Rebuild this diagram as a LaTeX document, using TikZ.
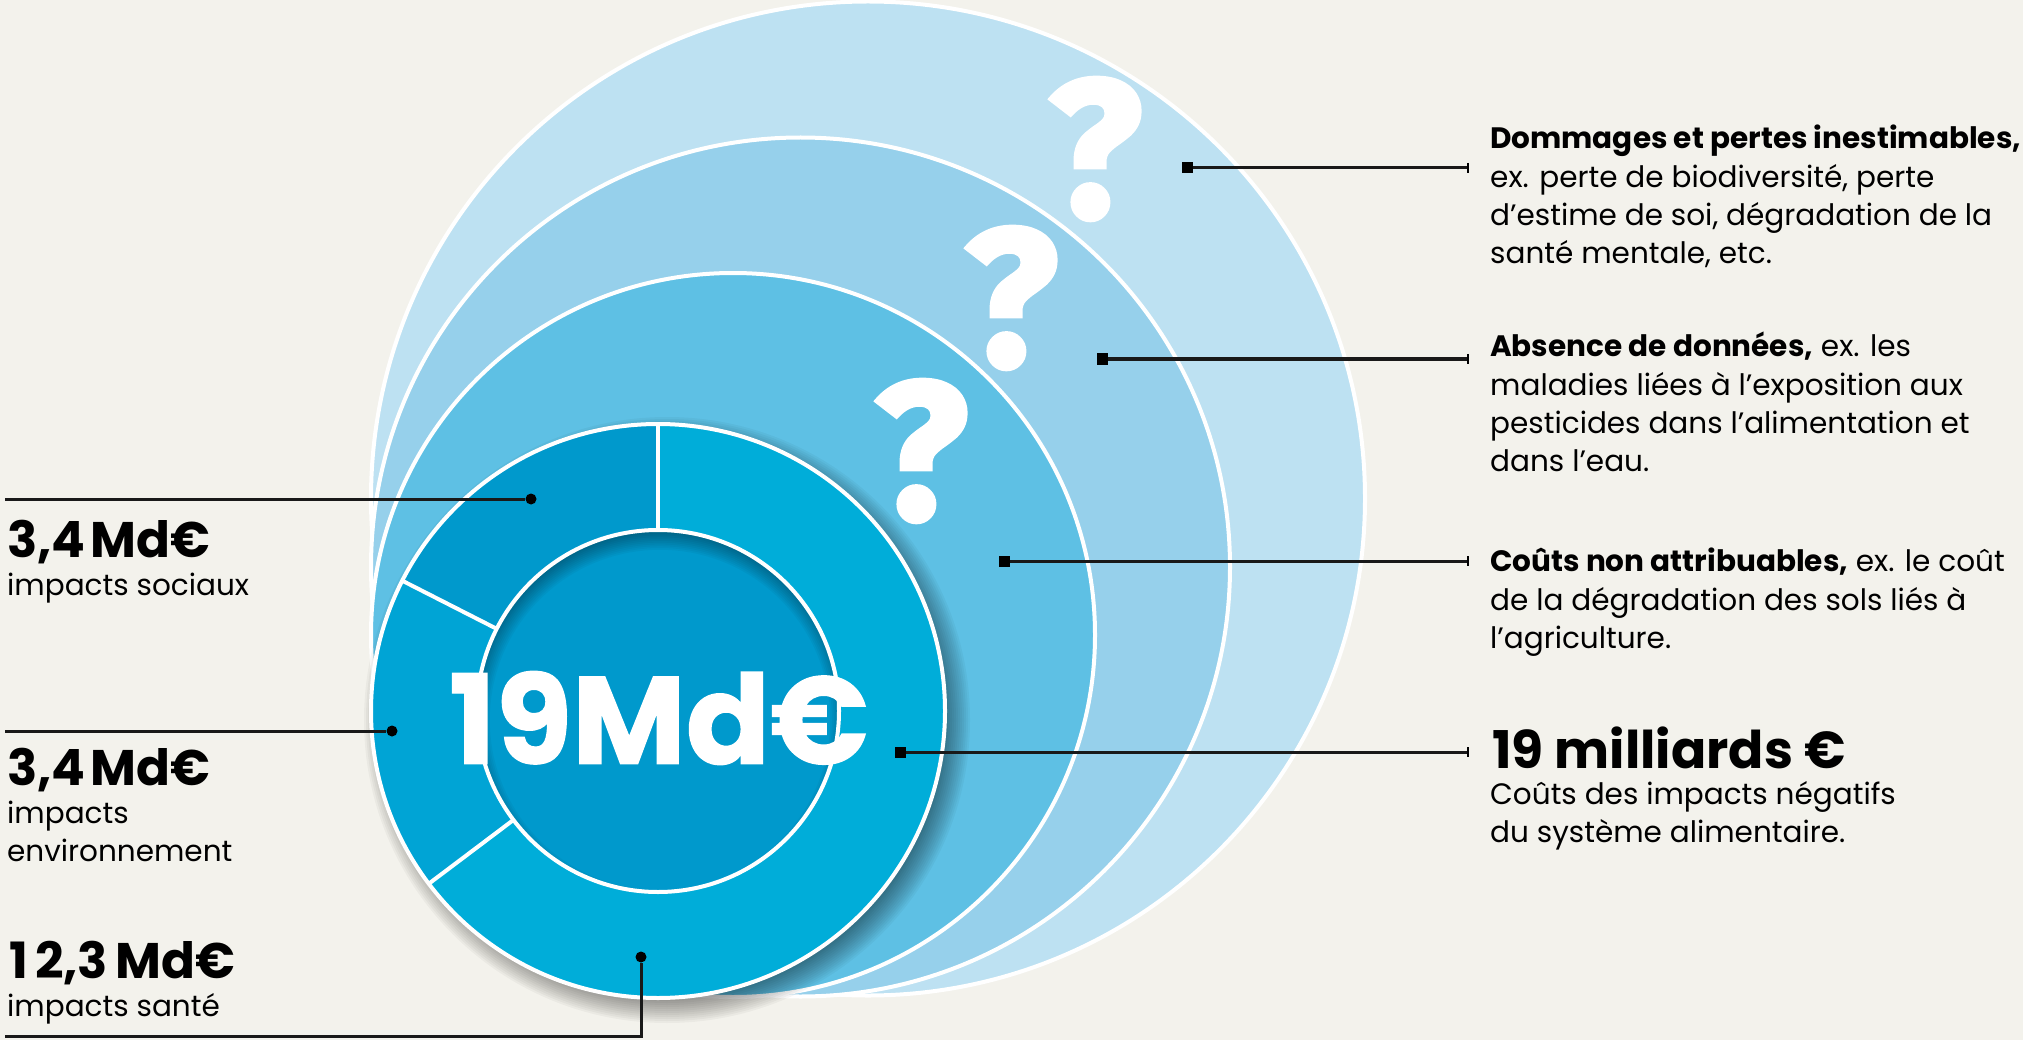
\documentclass[tikz,border=0pt]{standalone}
\usepackage{fontspec}
\usetikzlibrary{calc}
\setmainfont{Poppins}
\newfontfamily\qfa[FakeBold=2.5]{Fira Sans Bold}
\newfontfamily\totf[BoldFeatures={FakeBold=1}]{Poppins}
\definecolor{bgc}{HTML}{F3F2EC}
\definecolor{ca}{HTML}{BDE1F2}
\definecolor{cb}{HTML}{96D0EB}
\definecolor{cc}{HTML}{5EC0E4}
\definecolor{da}{HTML}{00ADD9}
\definecolor{db}{HTML}{00A4D5}
\definecolor{dc}{HTML}{0099CC}
\tikzset{
  ring/.style={draw=white,line width=4pt},
  sep/.style={draw=white,line width=4pt},
  conn/.style={draw=black!90,line width=3pt},
  sq/.style={fill=black,minimum size=11pt,inner sep=0pt,rectangle},
  dot/.style={fill=black,minimum size=11pt,inner sep=0pt,circle},
  qm/.style={text=white,inner sep=0pt,font=\fontsize{195}{195}\selectfont\qfa},
  big/.style={anchor=base west,inner sep=0pt,font=\fontsize{50}{50}\selectfont\bfseries},
  bigb/.style={anchor=base west,inner sep=0pt,font=\fontsize{52}{52}\selectfont\bfseries},
  small/.style={anchor=north west,inner sep=0pt,align=left,font=\fontsize{29.5}{38.3}\selectfont},
  rtxt/.style={anchor=north west,inner sep=0pt,align=left,font=\fontsize{29.5}{38.3}\selectfont}
}
\begin{document}
\begin{tikzpicture}[x=1pt,y=-1pt]
\useasboundingbox (0,0) rectangle (2023,1040);
\fill[bgc] (0,0) rectangle (2023,1040);
% outer circles
\coordinate (CA) at (868,498.5);
\coordinate (CB) at (800.5,567);
\coordinate (CC) at (733,635);
\coordinate (D) at (658,711);
\path[fill=ca,ring] (CA) circle (497);
\path[fill=cb,ring] (CB) circle (429.5);
\path[fill=cc,ring] (CC) circle (362);
% question marks
\node[qm] (q1) at (1095,149) {?};
\node[qm] (q2) at (1011,298) {?};
\node[qm] (q3) at (921,451) {?};
% donut shadow
\foreach \i in {0,...,14}{
  \fill[black,opacity=.035] ($(D)+(9,9)$) circle ({287+16-2*\i});
}
% donut
\fill[da] (D) circle (287);
\fill[dc] (D) -- ++(-90:287) arc[start angle=-90,end angle=-153,radius=287] -- cycle;
\fill[db] (D) -- ++(-153:287) arc[start angle=-153,end angle=-217,radius=287] -- cycle;
\draw[sep] (D) -- ++(-90:287);
\draw[sep] (D) -- ++(-153:287);
\draw[sep] (D) -- ++(-217:287);
\draw[ring] (D) circle (287);
% centre
\fill[dc] (D) circle (181);
\begin{scope}
\clip (D) circle (181);
\foreach \i in {0,...,11}{
  \fill[black,opacity=.035,even odd rule] (400,400) rectangle (920,1020) ($(D)+(2,9)$) circle ({190-1.8*\i});
}
\end{scope}
\draw[ring] (D) circle (181);
\node[text=white,inner sep=0pt,font=\fontsize{124}{124}\selectfont\totf\bfseries] (tot) at (659,718) {19Md€};
% right connectors
\node[sq] (sa) at (1187,168) {};
\node[sq] (sb) at (1102,359) {};
\node[sq] (sc) at (1004,561) {};
\node[sq] (sd) at (900,752) {};
\coordinate (ea) at (1468,168);
\coordinate (eb) at (1468,359);
\coordinate (ec) at (1468,561);
\coordinate (ed) at (1468,752);
\foreach \s/\e in {sa/ea,sb/eb,sc/ec,sd/ed}{
  \draw[conn] (\s) -- (\e);
  \draw[black,line width=1.5pt] ($(\e)+(0,-5)$) -- ($(\e)+(0,5)$);
}
% left connectors
\node[dot] (da1) at (531,499) {};
\node[dot] (da2) at (392,731) {};
\node[dot] (da3) at (641,957) {};
\coordinate (la1) at (5,499);
\coordinate (la2) at (5,731);
\coordinate (la3) at (5,1036);
\coordinate (cn3) at (641,1036);
\draw[conn] (la1) -- (da1);
\draw[conn] (la2) -- (da2);
\draw[conn] (la3) -- (cn3) -- (da3);
% left texts
\node[big] (v1) at (7,557) {3,4\hspace{-6pt} Md€};
\node[small] (t1) at (7,573) {impacts sociaux};
\node[big] (v2) at (7,785) {3,4\hspace{-6pt} Md€};
\node[small] (t2) at (7,801) {impacts\\environnement};
\node[big] (v3) at (9,978) {1\kern7pt2,3\kern3pt\hspace{-6pt} Md€};
\node[small] (t3) at (7,993) {impacts santé};
% right texts
\node[rtxt] (ra) at (1490,125) {\textbf{Dommages et pertes inestimables,}\\ex. perte de biodiversité, perte\\d’estime de soi, dégradation de la\\santé mentale, etc.};
\node[rtxt] (rb) at (1490,332) {\textbf{Absence de données,} ex. les\\maladies liées à l’exposition aux\\pesticides dans l’alimentation et\\dans l’eau.};
\node[rtxt] (rc) at (1490,548) {\textbf{Coûts non attribuables,} ex. le coût\\de la dégradation des sols liés à\\l’agriculture.};
\node[bigb] (rd) at (1492,768) {19 milliards €};
\node[rtxt] (re) at (1490,781) {Coûts des impacts négatifs\\du système alimentaire.};
\end{tikzpicture}
\end{document}
